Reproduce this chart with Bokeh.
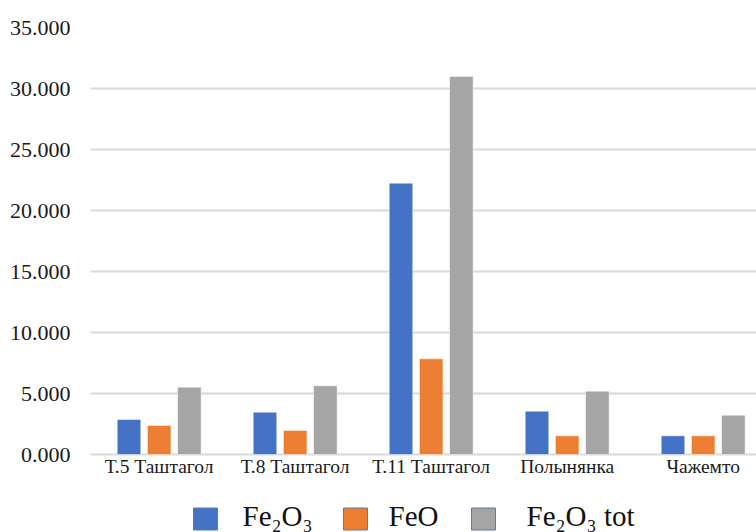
from bokeh.plotting import figure
from bokeh.models import Range1d, ColumnDataSource, FixedTicker, NumeralTickFormatter
from bokeh.core.properties import value
from bokeh.transform import dodge
from bokeh.embed import file_html
from bokeh.resources import INLINE

categories = ["Т.5 Таштагол", "Т.8 Таштагол", "Т.11 Таштагол", "Полынянка", "Чажемто"]
fe2o3 = [2.87, 3.47, 22.24, 3.55, 1.53]
feo = [2.38, 1.97, 7.84, 1.53, 1.53]
fe2o3_tot = [5.52, 5.63, 30.98, 5.19, 3.22]
series_names = ["Fe₂O₃", "FeO", "Fe₂O₃ tot"]
colors = ["#4472C4", "#ED7D31", "#A5A5A5"]
y_ticks = [0, 5, 10, 15, 20, 25, 30, 35]

FONT = "Liberation Serif"

# ---- layout (pixels) ----
W, H = 756, 532
LEFT, TOP, BASE = 90, 27, 454          # frame left, top (35 line), zero line
px_per_unit = (BASE - TOP) / 35.0
cat_px = 136.0                          # pixel width of one category
x0 = -0.005
x_start, x_end = x0, x0 + (W - LEFT) / cat_px
y_start, y_end = -(H - BASE) / px_per_unit, 35

def dx(px):
    return x0 + (px - LEFT) / cat_px

def dy(py):
    return (BASE - py) / px_per_unit

xpos = [i + 0.5 for i in range(len(categories))]
src = ColumnDataSource(dict(x=xpos, a=fe2o3, b=feo, c=fe2o3_tot,
                            cat=categories, zero=[0] * len(categories)))

p = figure(width=W, height=H, output_backend="svg", toolbar_location=None,
           x_range=Range1d(x_start, x_end), y_range=Range1d(y_start, y_end),
           min_border_top=TOP, min_border_left=LEFT, min_border_right=0, min_border_bottom=0)
p.outline_line_color = None
p.xaxis.visible = False

bw = 0.173
for field, off, col in zip(["a", "b", "c"], [-0.222, 0.0, 0.222], colors):
    p.vbar(x=dodge("x", off, range=p.x_range), top=field, width=bw, source=src,
           fill_color=col, line_color="#ffffff", line_alpha=0.5, line_width=1)

# category labels under the baseline
p.text(x="x", y="zero", text="cat", source=src, y_offset=12,
       text_font=value(FONT), text_font_size="19.5px", text_color="#1a1a1a",
       text_align="center", text_baseline="middle")

# y axis
p.yaxis.ticker = FixedTicker(ticks=y_ticks)
p.yaxis.formatter = NumeralTickFormatter(format="0.000")
p.yaxis.axis_line_color = None
p.yaxis.major_tick_line_color = None
p.yaxis.minor_tick_line_color = None
p.yaxis.major_label_text_font = FONT
p.yaxis.major_label_text_font_size = "22px"
p.yaxis.major_label_text_color = "#1a1a1a"
p.yaxis.major_label_standoff = 14

p.xgrid.grid_line_color = None
p.ygrid.ticker = FixedTicker(ticks=y_ticks)
p.ygrid.grid_line_color = "#d9d9d9"
p.ygrid.grid_line_width = 2

# legend (drawn below the categories, near the page edge like the original)
key_px = [205, 355, 483]
label_px = [242, 388, 526]
leg = ColumnDataSource(dict(kx=[dx(v) for v in key_px], lx=[dx(v) for v in label_px],
                            ky=[dy(518.5)] * 3, ly=[dy(515)] * 3,
                            name=series_names, color=colors))
p.rect(x="kx", y="ky", width=24, height=22, width_units="screen", height_units="screen",
       fill_color="color", line_color="#5b7bb0", line_width=1, source=leg)
p.text(x="lx", y="ly", text="name", source=leg, text_font=value(FONT),
       text_font_size="29px", text_color="#111111",
       text_align="left", text_baseline="alphabetic")

open("out.html", "w").write(file_html(p, INLINE))
